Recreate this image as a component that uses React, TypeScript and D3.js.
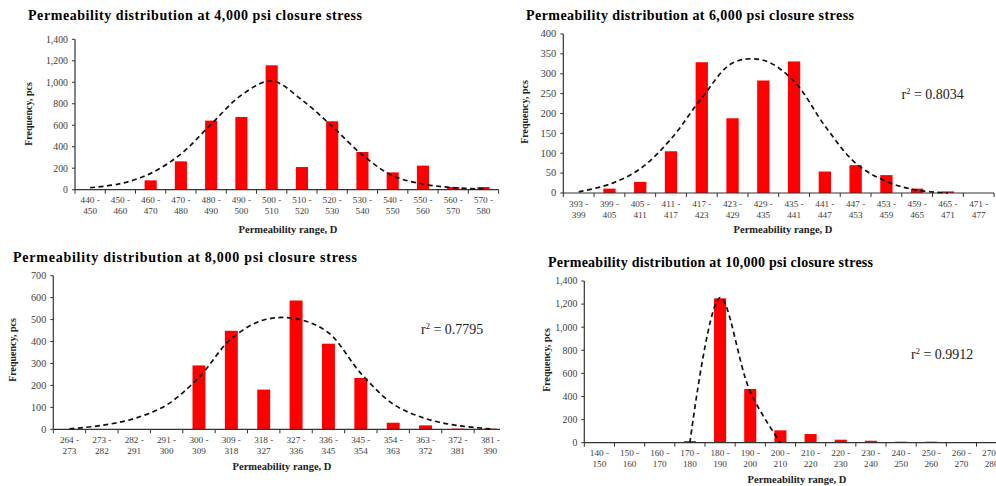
import React from "react";
import * as d3 from "d3";

// ---------- DATA ----------
const cats4000 = ["440 - 450","450 - 460","460 - 470","470 - 480","480 - 490","490 - 500","500 - 510","510 - 520","520 - 530","530 - 540","540 - 550","550 - 560","560 - 570","570 - 580"];
const freq4000 = [0, 0, 87, 264, 643, 677, 1158, 211, 637, 351, 161, 224, 25, 25];
const fitX4000 = [445, 455, 465, 475, 485, 495, 505, 515, 525, 535, 545, 555, 565, 575];
const fitY4000 = [19, 56, 152, 332, 610, 880, 1012, 835, 590, 323, 130, 53, 19, 6];

const cats6000 = ["393 - 399","399 - 405","405 - 411","411 - 417","417 - 423","423 - 429","429 - 435","435 - 441","441 - 447","447 - 453","453 - 459","459 - 465","465 - 471","471 - 477"];
const freq6000 = [0, 11, 28, 105, 329, 188, 283, 331, 54, 70, 45, 11, 4, 0];
const fitX6000 = [396, 402, 408, 414, 420, 426, 432, 438, 444, 450, 456, 462, 468];
const fitY6000 = [3, 22, 61, 136, 239, 327, 334, 281, 169, 75, 29, 7, 0];

const cats8000 = ["264 - 273","273 - 282","282 - 291","291 - 300","300 - 309","309 - 318","318 - 327","327 - 336","336 - 345","345 - 354","354 - 363","363 - 372","372 - 381","381 - 390"];
const freq8000 = [0, 0, 0, 0, 291, 449, 181, 587, 390, 234, 30, 18, 3, 3];
const fitX8000 = [268.5, 277.5, 286.5, 295.5, 304.5, 313.5, 322.5, 331.5, 340.5, 349.5, 358.5, 367.5, 376.5, 385.5];
const fitY8000 = [2, 18, 49, 111, 237, 413, 498, 504, 440, 255, 115, 49, 17, 2];

const cats10000 = ["140 - 150","150 - 160","160 - 170","170 - 180","180 - 190","190 - 200","200 - 210","210 - 220","220 - 230","230 - 240","240 - 250","250 - 260","260 - 270","270 - 280"];
const freq10000 = [2, 2, 2, 14, 1250, 465, 107, 75, 26, 17, 9, 9, 5, 5];
const fitX10000 = [175, 185, 195, 205];
const fitY10000 = [0, 1256, 440, 0];

const titles = [
  "Permeability distribution at 4,000 psi closure stress",
  "Permeability distribution at 6,000 psi closure stress",
  "Permeability distribution at 8,000 psi closure stress",
  "Permeability distribution at 10,000 psi closure stress",
];
const r2Labels = ["", "0.8034", "0.7795", "0.9912"];
const yLabel = "Frequency, pcs";
const xLabel = "Permeability range, D";

const SERIF = '"Liberation Serif", "Times New Roman", Times, serif';

type PanelProps = {
  title: string;
  cats: string[];
  freq: number[];
  fitX: number[];
  fitY: number[];
  dom: [number, number];
  yMax: number;
  yStep: number;
  r2: string;
  L: {
    left: number; top: number; width: number; bottom: number;
    titleX: number; titleY: number; titleLen: number;
    yLabX: number; yLabY: number;
    xLabX: number; xLabY: number;
    r2X: number; r2Y: number;
    yTickFont: number;
    clipRight?: number;
  };
  id: string;
};

function Panel({ title, cats, freq, fitX, fitY, dom, yMax, yStep, r2, L, id }: PanelProps) {
  const x = d3.scaleBand<string>().domain(cats).range([L.left, L.left + L.width]).paddingInner(0.6).paddingOuter(0.3);
  const xb = d3.scaleBand<string>().domain(cats).range([L.left, L.left + L.width]);
  const xl = d3.scaleLinear().domain(dom).range([L.left, L.left + L.width]);
  const y = d3.scaleLinear().domain([0, yMax]).range([L.bottom, L.top]);
  const yTicks = d3.range(0, yMax + yStep / 2, yStep);
  const fmt = d3.format(",");
  const pts: [number, number][] = fitX.map((v, i) => [xl(v), y(fitY[i])]);
  const line = d3.line().curve(d3.curveCatmullRom.alpha(0.5))(pts) || "";
  const boundaries = cats.map((c) => xb(c)!).concat([L.left + L.width]);
  const clip = L.clipRight !== undefined ? `url(#clip-${id})` : undefined;
  return (
    <g>
      {L.clipRight !== undefined && (
        <defs>
          <clipPath id={`clip-${id}`}>
            <rect x={0} y={0} width={L.clipRight} height={486} />
          </clipPath>
        </defs>
      )}
      <text x={L.titleX} y={L.titleY} fontFamily={SERIF} fontWeight="bold" fontSize={14} textLength={L.titleLen} lengthAdjust="spacing" fill="#000">{title}</text>
      <g clipPath={clip}>
        {cats.map((c, i) => (
          <rect key={c} x={x(c)} y={y(freq[i])} width={x.bandwidth()} height={Math.max(0, L.bottom - y(freq[i]))} fill="#ff0000" />
        ))}
        <line x1={L.left} x2={L.left + L.width} y1={L.bottom} y2={L.bottom} stroke="#333" strokeWidth={1.2} />
        {boundaries.map((b, i) => (
          <line key={i} x1={b} x2={b} y1={L.bottom} y2={L.bottom + 4} stroke="#333" strokeWidth={1} />
        ))}
        {cats.map((c) => {
          const [a, b] = c.split(" - ");
          const cx = xb(c)! + xb.bandwidth() / 2;
          return (
            <text key={c} x={cx} textAnchor="middle" fontFamily={SERIF} fontSize={9.2} fill="#404040">
              <tspan x={cx} y={L.bottom + 13.5}>{a + " -"}</tspan>
              <tspan x={cx} y={L.bottom + 24.5}>{b}</tspan>
            </text>
          );
        })}
        <path d={line} fill="none" stroke="#111" strokeWidth={1.7} strokeDasharray="5,3.5" />
      </g>
      <line x1={L.left} x2={L.left} y1={L.top} y2={L.bottom} stroke="#333" strokeWidth={1.2} />
      {yTicks.map((t) => (
        <g key={t}>
          <line x1={L.left - 3} x2={L.left} y1={y(t)} y2={y(t)} stroke="#333" strokeWidth={1} />
          <text x={L.left - 7} y={y(t) + 3.3} textAnchor="end" fontFamily={SERIF} fontSize={L.yTickFont} fill="#404040">{fmt(t)}</text>
        </g>
      ))}
      <text transform={`translate(${L.yLabX},${L.yLabY}) rotate(-90)`} textAnchor="middle" fontFamily={SERIF} fontWeight="bold" fontSize={10} fill="#222">{yLabel}</text>
      <text x={L.xLabX} y={L.xLabY} textAnchor="middle" fontFamily={SERIF} fontWeight="bold" fontSize={10.5} fill="#222">{xLabel}</text>
      {r2 && (
        <text x={L.r2X} y={L.r2Y} fontFamily={SERIF} fontSize={14} fill="#222">
          r<tspan dy={-5} fontSize={8.5}>2</tspan><tspan dy={5}>{" = " + r2}</tspan>
        </text>
      )}
    </g>
  );
}

export default function App() {
  return (
    <svg width={996} height={486} style={{ position: "absolute", left: 0, top: 0, background: "#fff" }}>
      <rect x={0} y={0} width={996} height={486} fill="#fff" />
      <Panel id="p1" title={titles[0]} cats={cats4000} freq={freq4000} fitX={fitX4000} fitY={fitY4000} dom={[440, 580]} yMax={1400} yStep={200} r2={r2Labels[0]}
        L={{ left: 75, top: 39.3, width: 423.6, bottom: 189.7, titleX: 28, titleY: 20, titleLen: 334, yLabX: 32, yLabY: 114, xLabX: 288, xLabY: 233, r2X: 0, r2Y: 0, yTickFont: 9.8 }} />
      <Panel id="p2" title={titles[1]} cats={cats6000} freq={freq6000} fitX={fitX6000} fitY={fitY6000} dom={[393, 477]} yMax={400} yStep={50} r2={r2Labels[1]}
        L={{ left: 563.3, top: 34, width: 430.8, bottom: 193, titleX: 526, titleY: 20, titleLen: 328, yLabX: 528, yLabY: 112, xLabX: 783, xLabY: 233, r2X: 901.5, r2Y: 98.5, yTickFont: 10.5 }} />
      <Panel id="p3" title={titles[2]} cats={cats8000} freq={freq8000} fitX={fitX8000} fitY={fitY8000} dom={[264, 390]} yMax={700} yStep={100} r2={r2Labels[2]}
        L={{ left: 53.3, top: 275.7, width: 453.2, bottom: 429.3, titleX: 13, titleY: 262, titleLen: 344, yLabX: 16, yLabY: 350, xLabX: 282, xLabY: 470, r2X: 421, r2Y: 334, yTickFont: 10.2, clipRight: 500 }} />
      <Panel id="p4" title={titles[3]} cats={cats10000} freq={freq10000} fitX={fitX10000} fitY={fitY10000} dom={[140, 280]} yMax={1400} yStep={200} r2={r2Labels[3]}
        L={{ left: 584.3, top: 281, width: 422.4, bottom: 442.7, titleX: 548, titleY: 267, titleLen: 325, yLabX: 550, yLabY: 360, xLabX: 797, xLabY: 483, r2X: 911, r2Y: 358.5, yTickFont: 9.8 }} />
    </svg>
  );
}
